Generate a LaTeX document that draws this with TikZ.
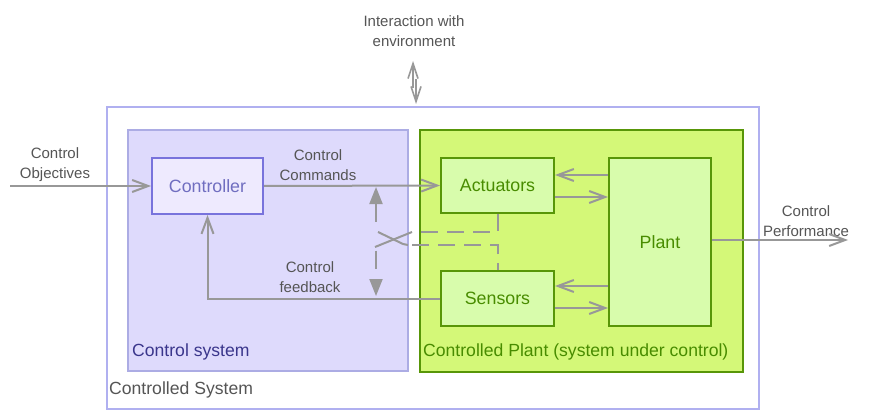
\documentclass[tikz,border=0pt]{standalone}
\usepackage{fontspec}
\setmainfont{Liberation Sans}
\usetikzlibrary{arrows.meta,calc}
\definecolor{outerc}{RGB}{176,176,240}
\definecolor{csysfill}{RGB}{222,218,252}
\definecolor{csysdraw}{RGB}{172,172,228}
\definecolor{ctrlfill}{RGB}{238,234,254}
\definecolor{ctrldraw}{RGB}{120,115,220}
\definecolor{ctrltext}{RGB}{112,110,192}
\definecolor{csystitle}{RGB}{58,54,140}
\definecolor{plantfill}{RGB}{212,248,120}
\definecolor{greendraw}{RGB}{88,150,8}
\definecolor{gboxfill}{RGB}{216,252,172}
\definecolor{greentext}{RGB}{72,140,0}
\definecolor{arrgray}{RGB}{152,152,152}
\definecolor{labgray}{RGB}{85,85,85}
\tikzset{
  region/.style={draw, line width=1.6pt, inner sep=0pt},
  gbox/.style={draw=greendraw, fill=gboxfill, line width=2pt, text=greentext,
    font=\fontsize{17.8}{20}\selectfont, inner sep=0pt},
  cbox/.style={draw=ctrldraw, fill=ctrlfill, line width=2pt, text=ctrltext,
    font=\fontsize{17.8}{20}\selectfont, inner sep=0pt},
  lab/.style={text=labgray, align=center, font=\fontsize{15}{20}\selectfont, inner sep=0pt},
  title/.style={anchor=west, font=\fontsize{17.6}{20}\selectfont, inner sep=0pt},
  arr/.style={draw=arrgray, line width=2pt, -{Straight Barb[length=16pt,width=12pt,line width=2pt]}},
  thinarr/.style={draw=arrgray, line width=1.6pt, -{Straight Barb[length=15pt,width=10pt,line width=1.6pt]}},
  dashline/.style={draw=arrgray, line width=2pt, dash pattern=on 17pt off 9pt},
  crossline/.style={draw=arrgray, line width=2pt},
  dblarr/.style={draw=arrgray, line width=2pt, dash pattern=on 18pt off 29pt,
    {Triangle[length=17pt,width=13pt]}-{Triangle[length=17pt,width=13pt]}}
}
\begin{document}
\begin{tikzpicture}[x=1pt,y=-1pt]
\useasboundingbox (0,0) rectangle (874,414);
% regions
\node[region, draw=outerc, minimum width=652pt, minimum height=302pt] (outer) at (433,258) {};
\node[region, draw=csysdraw, fill=csysfill, minimum width=280pt, minimum height=241pt] (csys) at (268,250.5) {};
\node[region, draw=greendraw, fill=plantfill, line width=2pt, minimum width=323pt, minimum height=242pt] (parea) at (581.5,251) {};
% boxes
\node[cbox, minimum width=111pt, minimum height=56pt] (ctrl) at (207.5,186) {Controller};
\node[gbox, minimum width=113pt, minimum height=55pt] (act) at (497.5,185.5) {Actuators};
\node[gbox, minimum width=113pt, minimum height=55pt] (sens) at (497.5,298.5) {Sensors};
\node[gbox, minimum width=102pt, minimum height=168pt] (plant) at (660,242) {Plant};
% titles
\node[title, text=labgray] (tout) at (109,390) {Controlled System};
\node[title, text=csystitle] (tcsys) at (132,352) {Control system};
\node[title, text=greentext] (tparea) at (423,352) {Controlled Plant (system under control)};
% labels
\node[lab] (lobj) at (55,165) {Control\\Objectives};
\node[lab] (lcmd) at (318,165) {Control\\Commands};
\node[lab] (lfb) at (310,277) {Control\\feedback};
\node[lab] (lperf) at (806,221) {Control\\Performance};
\node[lab] (lenv) at (414,31) {Interaction with\\environment};
% coordinates
\coordinate (objstart) at (10,186);
\coordinate (perfend) at (848,240);
\coordinate (envup0) at (413,88);
\coordinate (envup1) at (413,61);
\coordinate (envdn0) at (416,79);
\coordinate (envdn1) at (416,104);
\coordinate (dtop) at (376,187);
\coordinate (dbot) at (376,296);
\coordinate (aA) at (497.5,232);
\coordinate (aE) at (421,232);
\coordinate (aB) at (412,232);
\coordinate (aC) at (375,247);
\coordinate (sA) at (497.5,245);
\coordinate (sE) at (408,245);
\coordinate (sB) at (403,244);
\coordinate (sC) at (378,232);
% connectors
\draw[arr] (objstart) -- (ctrl.west);
\draw[arr] (ctrl.east) -- (act.west);
\draw[arr] (sens.west) -| (ctrl.south);
\draw[arr] (plant.east |- perfend) -- (perfend);
\draw[arr] (plant.west |- 0,175) -- (act.east |- 0,175);
\draw[arr] (act.east |- 0,197) -- (plant.west |- 0,197);
\draw[arr] (plant.west |- 0,286) -- (sens.east |- 0,286);
\draw[arr] (sens.east |- 0,308) -- (plant.west |- 0,308);
\draw[thinarr] (envup0) -- (envup1);
\draw[thinarr] (envdn0) -- (envdn1);
\draw[dblarr] (dtop) -- (dbot);
\draw[dashline] (act.south) -- (aA) -- (aE);
\draw[crossline] (aB) -- (aC);
\draw[dashline, dash phase=10pt] (sens.north) -- (sA) -- (sE);
\draw[crossline] (sE) -- (sB) -- (sC);
\end{tikzpicture}
\end{document}
